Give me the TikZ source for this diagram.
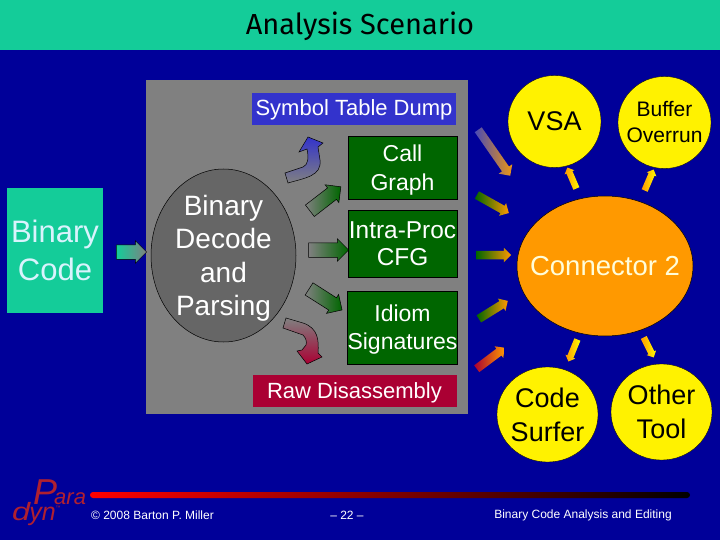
\documentclass[tikz,border=0pt]{standalone}
\usepackage{fontspec}
\setmainfont{Liberation Sans}
\newfontfamily\titlefont{Fira Sans}
\usetikzlibrary{positioning,calc,shapes.arrows,shapes.geometric}
\definecolor{SlideNavy}{RGB}{0,0,153}
\definecolor{SlideTeal}{RGB}{20,204,153}
\definecolor{PanelGray}{RGB}{128,128,128}
\definecolor{DecodeGray}{RGB}{102,102,102}
\definecolor{DumpBlue}{RGB}{51,51,204}
\definecolor{ToolGreen}{RGB}{0,102,0}
\definecolor{RawRed}{RGB}{170,0,51}
\definecolor{HubOrange}{RGB}{255,153,0}
\definecolor{LogoRed}{RGB}{176,32,48}
\newcommand{\flowarrow}[5][]{%
  \path let \p1=($(#3)-(#2)$), \n1={atan2(\y1,\x1)}, \n2={veclen(\x1,\y1)} in
    node[blockarrow,rotate=\n1,minimum height=\n2,left color=#4,right color=#5,#1] at ($(#2)!.5!(#3)$) {};%
}
\begin{document}
\begin{tikzpicture}[
x=1pt,y=-1pt,
blockarrow/.style={
    single arrow,
    draw=black,
    line width=0.5pt,
    inner xsep=0pt,
    inner ysep=7pt,
    minimum width=0pt,
    single arrow head extend=4pt,
    single arrow head indent=0pt
},
smallarrow/.style={draw=none,inner ysep=4pt,single arrow head extend=3pt},
tinyarrow/.style={draw=none,inner ysep=3pt,single arrow head extend=2pt},
toolbox/.style={
    rectangle,
    draw=black,
    line width=0.5pt,
    fill=ToolGreen,
    text=white,
    align=center,
    inner sep=0pt,
    minimum width=109pt,
    text depth=0pt,
    font=\fontsize{23}{29}\selectfont
},
stripbox/.style={
    rectangle,
    inner sep=0pt,
    minimum width=204pt,
    minimum height=32pt,
    text=white,
    text height=19pt,
    text depth=5pt,
    font=\fontsize{22}{26}\selectfont
},
ball/.style={
    ellipse,
    draw=black,
    line width=0.3pt,
    fill=yellow,
    inner sep=-6pt,
    minimum width=93pt,
    minimum height=92pt,
    align=center,
    text=black,
    font=\fontsize{27}{34}\selectfont
},
foot/.style={text=white,inner sep=0pt,font=\fontsize{12}{14}\selectfont},
logo/.style={text=LogoRed,inner sep=0pt,font=\itshape\fontsize{22}{24}\selectfont}
]

% slide background
\fill[SlideNavy] (0,0) rectangle (720,540);
\useasboundingbox (0,0) rectangle (720,540);
\fill[SlideTeal] (0,0) rectangle (720,50);
\node[text=black,inner sep=0pt,font=\titlefont\fontsize{29}{34}\selectfont] (title) at (360,26) {Analysis Scenario};
\fill[PanelGray] (146,80) rectangle (468,414);

\node[rectangle,fill=SlideTeal,text=cyan!15!white,inner sep=0pt,minimum width=96pt,minimum height=125pt,align=center,font=\fontsize{31}{38}\selectfont] (bin) at (55,250.5) {Binary\\Code};
\node[ellipse,draw=black,line width=0.5pt,fill=DecodeGray,text=white,inner xsep=0pt,inner ysep=-9pt,minimum width=145pt,minimum height=173pt,align=center,text depth=0pt,font=\fontsize{28}{33.5}\selectfont] (decode) at (223.5,255.5) {Binary\\Decode\\and\\Parsing};

\node[stripbox,fill=DumpBlue] (dump) at (354,109) {Symbol Table Dump};
\node[toolbox,minimum height=63pt] (call) at (402.5,167.5) {Call\\Graph};
\node[toolbox,minimum height=67pt,font=\fontsize{24.4}{26.5}\selectfont] (cfg) at (402.5,243.5) {Intra-Proc\\CFG};
\node[toolbox,minimum height=73pt,font=\fontsize{23}{28}\selectfont] (idiom) at (402.5,327.5) {Idiom\\Signatures};
\node[stripbox,fill=RawRed] (raw) at (354.5,391) {Raw Disassembly};

\node[ball] (vsa) at (554.5,121.5) {VSA};
\node[ball,font=\fontsize{21}{26}\selectfont] (overrun) at (664.5,122.5) {Buffer\\Overrun};
\node[ellipse,draw=black,line width=0.5pt,fill=HubOrange,text=white!85!yellow,inner sep=0pt,minimum width=176pt,minimum height=140pt,font=\fontsize{27.5}{32}\selectfont] (hub) at (605,266) {\makebox[100pt]{Connector 2}};
\node[ball,minimum width=101pt,minimum height=95pt] (surfer) at (547.5,414.5) {Code\\Surfer};
\node[ball,minimum width=101pt,minimum height=96pt] (other) at (661.5,412) {Other\\Tool};

% gradient arrows, end points named
\coordinate (binS) at (113,252); \coordinate (binE) at (143,252);
\coordinate (callS) at (307,213); \coordinate (callE) at (338,189);
\coordinate (cfgS) at (305,250); \coordinate (cfgE) at (345,250);
\coordinate (idiomS) at (306,287); \coordinate (idiomE) at (339,308);
\flowarrow{binS}{binE}{SlideTeal}{PanelGray}
\flowarrow{callS}{callE}{PanelGray}{ToolGreen}
\flowarrow{cfgS}{cfgE}{PanelGray}{ToolGreen}
\flowarrow{idiomS}{idiomE}{PanelGray}{ToolGreen}

\coordinate (dumpS) at (477,128); \coordinate (dumpE) at (509,174);
\coordinate (callT) at (475,194); \coordinate (callF) at (507,212);
\coordinate (cfgT) at (474,255); \coordinate (cfgF) at (509,255);
\coordinate (idiomT) at (477,320); \coordinate (idiomF) at (506,302);
\coordinate (rawT) at (475,370); \coordinate (rawF) at (503,349);
\flowarrow[smallarrow,single arrow head extend=4pt]{dumpS}{dumpE}{DumpBlue!70!PanelGray}{HubOrange!85!PanelGray}
\flowarrow[smallarrow]{callT}{callF}{ToolGreen}{HubOrange}
\flowarrow[smallarrow]{cfgT}{cfgF}{ToolGreen}{HubOrange}
\flowarrow[smallarrow]{idiomT}{idiomF}{ToolGreen}{HubOrange}
\flowarrow[smallarrow]{rawT}{rawF}{RawRed}{HubOrange}

\coordinate (vsaS) at (577,190); \coordinate (vsaE) at (568,169);
\coordinate (overrunS) at (644,192); \coordinate (overrunE) at (653,171);
\coordinate (surferS) at (578,338); \coordinate (surferE) at (569,360);
\coordinate (otherS) at (643,336); \coordinate (otherE) at (653,356);
\flowarrow[tinyarrow]{vsaS}{vsaE}{HubOrange}{yellow}
\flowarrow[tinyarrow]{overrunS}{overrunE}{HubOrange}{yellow}
\flowarrow[tinyarrow]{surferS}{surferE}{HubOrange}{yellow}
\flowarrow[tinyarrow]{otherS}{otherE}{HubOrange}{yellow}

% bent arrows
\path[draw=black,line width=0.5pt,top color=DumpBlue,bottom color=PanelGray]
  (285,173) -- (288,183) .. controls (305,178) and (322,176) .. (320,160) -- (318,147) -- (323,143) -- (308,137) -- (299,152) -- (307,149)
  .. controls (309,158) and (308,165) .. (303,167) -- cycle;
\path[draw=black,line width=0.5pt,top color=PanelGray,bottom color=RawRed]
  (286,318) -- (283,328) -- (303,335) .. controls (306,338) and (307,342) .. (306,345) -- (302,350) -- (297,351) -- (307,364) -- (322,357) -- (318,353)
  .. controls (319,340) and (318,328) .. (303,323) -- cycle;

% footer
\shade[left color=red,right color=black,rounded corners=3pt] (90,492) rectangle (690,498);
\node[foot] (author) at (152.5,515) {© 2008 Barton P. Miller};
\node[foot] (page) at (347,515) {– 22 –};
\node[foot] (topic) at (583,515) {Binary Code Analysis and Editing};
\node[logo,anchor=base west] (logoP) at (33,504) {{\fontsize{36}{36}\selectfont P}\kern-3pt ara};
\node[logo,anchor=base west,font=\itshape\fontsize{25}{25}\selectfont] (logoD) at (12,520) {\scalebox{1.3}[1]{d}\kern-1pt yn\raisebox{11pt}{\fontsize{5}{5}\selectfont ™}};

\end{tikzpicture}
\end{document}
